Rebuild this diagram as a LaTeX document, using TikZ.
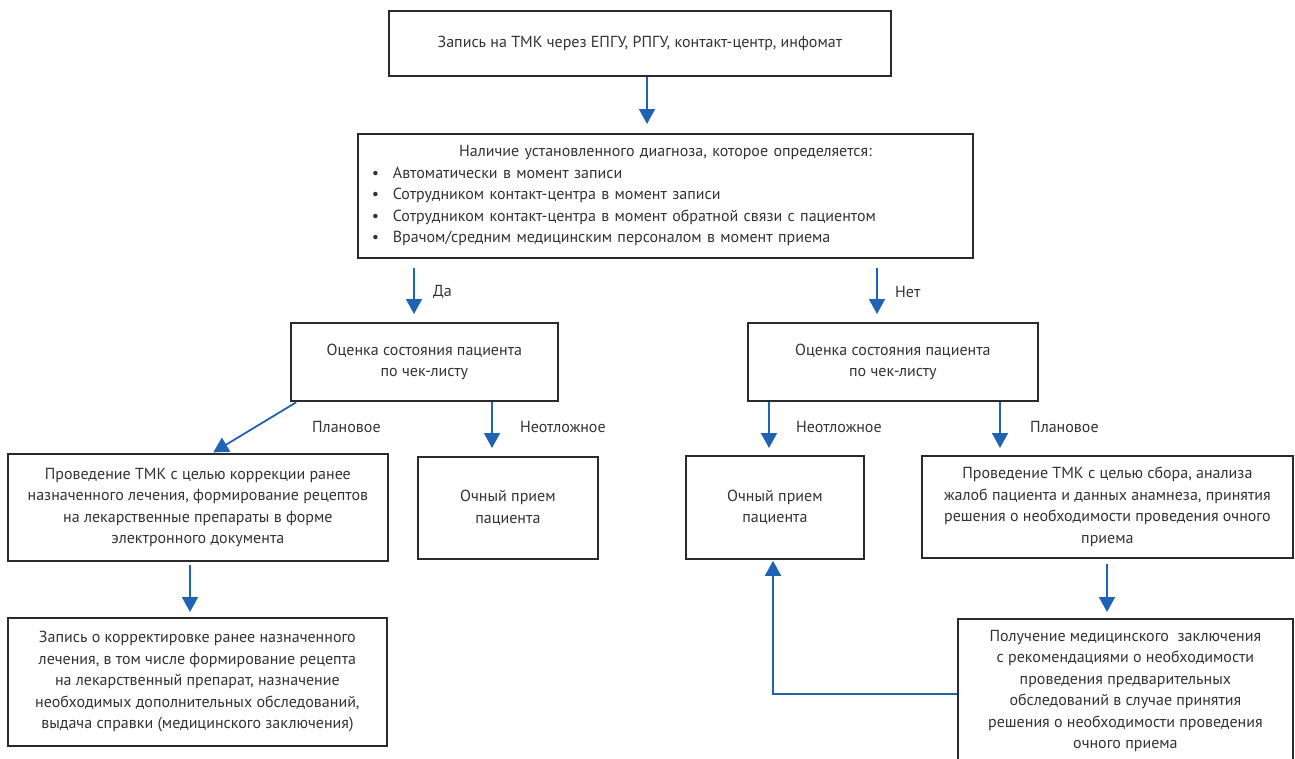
\documentclass[tikz,border=0pt]{standalone}
\usepackage{fontspec}
\setmainfont{PT Sans}
\usetikzlibrary{arrows.meta}
\definecolor{arrblue}{HTML}{1F63B4}
\definecolor{boxgray}{HTML}{2A2A2A}
\definecolor{txtgray}{HTML}{333333}
\newcommand\fsize{\fontsize{16}{21.5}\selectfont}
\begin{document}
\begin{tikzpicture}[x=1pt,y=-1pt,
  box/.style={draw=boxgray, line width=1.8pt, align=center, inner sep=0pt, anchor=north west, font=\fsize, text=txtgray},
  arr/.style={draw=arrblue, line width=1.8pt, -{Triangle[length=15pt,width=16pt]}},
  lbl/.style={anchor=west, inner sep=0pt, font=\fsize, text=txtgray}]
\path[use as bounding box] (0,0) rectangle (1295,758);
\clip (0,0) rectangle (1295,758);

\node[box, minimum width=502pt, minimum height=65pt] (rec) at (388,10) {Запись на ТМК через ЕПГУ, РПГУ, контакт-центр, инфомат};

\node[box, minimum width=615pt, minimum height=124pt, text width=587pt] (diag) at (357,133) {%
Наличие установленного диагноза, которое определяется:\\
\makebox[587pt][l]{\makebox[21pt][l]{•}Автоматически в момент записи}\\
\makebox[587pt][l]{\makebox[21pt][l]{•}Сотрудником контакт-центра в момент записи}\\
\makebox[587pt][l]{\makebox[21pt][l]{•}Сотрудником контакт-центра в момент обратной связи с пациентом}\\
\makebox[587pt][l]{\makebox[21pt][l]{•}Врачом/средним медицинским персоналом в момент приема}};

\node[box, minimum width=267pt, minimum height=78pt] (evalL) at (290,322) {Оценка состояния пациента\\по чек-листу};
\node[box, minimum width=290pt, minimum height=78pt] (evalR) at (747,322) {Оценка состояния пациента\\по чек-листу};

\node[box, minimum width=380pt, minimum height=107pt] (tmkL) at (7,453) {Проведение ТМК с целью коррекции ранее\\назначенного лечения, формирование рецептов\\на лекарственные препараты в форме\\электронного документа};
\node[box, minimum width=180pt, minimum height=102pt] (ochL) at (417,456) {Очный прием\\пациента};
\node[box, minimum width=178pt, minimum height=103pt] (ochR) at (685,455) {Очный прием\\пациента};
\node[box, minimum width=371pt, minimum height=102pt] (tmkR) at (921,455) {Проведение ТМК с целью сбора, анализа\\жалоб пациента и данных анамнеза, принятия\\решения о необходимости проведения очного\\приема};

\node[box, minimum width=379pt, minimum height=128pt] (zap) at (7,617) {Запись о корректировке ранее назначенного\\лечения, в том числе формирование рецепта\\на лекарственный препарат, назначение\\необходимых дополнительных обследований,\\выдача справки (медицинского заключения)};
\node[box, minimum width=335pt, minimum height=144pt] (pol) at (957,618) {Получение медицинского\ \ заключения\\с рекомендациями о необходимости\\проведения предварительных\\обследований в случае принятия\\решения о необходимости проведения\\очного приема};

% connectors
\draw[arr, shorten >=9pt] ([xshift=259pt]rec.south west) -- ([xshift=290pt]diag.north west);
\draw[arr, shorten <=9pt, shorten >=8pt] ([xshift=57pt]diag.south west) -- ([xshift=124pt]evalL.north west);
\draw[arr, shorten <=9pt, shorten >=8pt] ([xshift=520pt]diag.south west) -- ([xshift=130pt]evalR.north west);
\draw[arr, shorten <=1pt, shorten >=5pt] ([xshift=7pt]evalL.south west) -- ([xshift=202pt,yshift=-2pt]tmkL.north west);
\draw[arr, shorten >=8pt] ([xshift=202pt]evalL.south west) -- ([xshift=75pt]ochL.north west);
\draw[arr, shorten >=7pt] ([xshift=22pt]evalR.south west) -- ([xshift=84pt]ochR.north west);
\draw[arr, shorten >=7pt] ([xshift=253pt]evalR.south west) -- ([xshift=79pt]tmkR.north west);
\draw[arr, shorten <=3pt, shorten >=5pt] ([xshift=183pt]tmkL.south west) -- ([xshift=183pt]zap.north west);
\draw[arr, shorten <=5pt, shorten >=6pt] ([xshift=186pt]tmkR.south west) -- ([xshift=150pt]pol.north west);
\draw[arr, shorten >=1pt] ([yshift=-3pt]pol.west) -| ([xshift=88pt]ochR.south west);

% labels
\node[lbl] (lda) at (433,292) {Да};
\node[lbl] (lnet) at (895,292) {Нет};
\node[lbl] (lplanL) at (312,427) {Плановое};
\node[lbl] (lneotL) at (520,427) {Неотложное};
\node[lbl] (lneotR) at (796,427) {Неотложное};
\node[lbl] (lplanR) at (1030,427) {Плановое};
\end{tikzpicture}
\end{document}
